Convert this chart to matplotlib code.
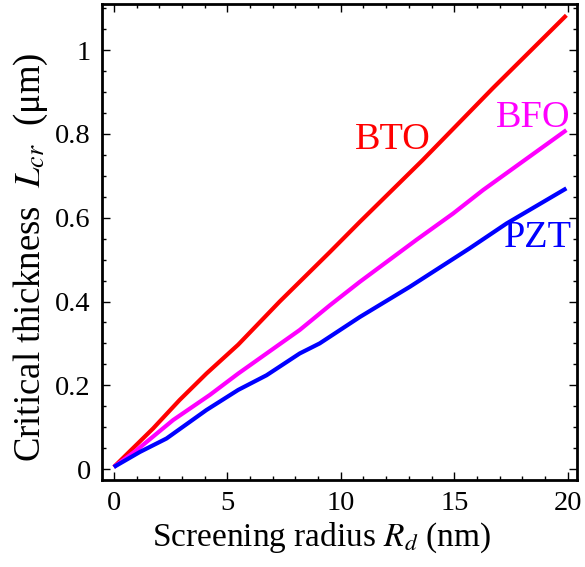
import numpy as np
import matplotlib
matplotlib.use("Agg")
import matplotlib.pyplot as plt
from matplotlib.ticker import MultipleLocator, FuncFormatter

plt.rcParams['font.family'] = ['Liberation Serif', 'DejaVu Serif']
plt.rcParams['mathtext.fontset'] = 'stix'

# данные
bto_x = [0, 1.73, 2.9, 4.08, 5.48, 7.31, 9.52, 10.84, 13.6, 16.7, 19.94]
bto_y = [0.005, 0.097, 0.165, 0.228, 0.297, 0.400, 0.518, 0.590, 0.737, 0.909, 1.083]

bfo_x = [0, 1.0, 2.61, 4.23, 5.48, 8.19, 9.52, 10.84, 13.33, 14.95, 16.27, 19.94]
bfo_y = [0.005, 0.045, 0.117, 0.177, 0.228, 0.332, 0.391, 0.447, 0.547, 0.610, 0.666, 0.809]

pzt_x = [0, 1.15, 2.32, 4.08, 5.48, 6.73, 8.19, 9.07, 10.84, 13.04, 15.68, 17.3, 19.94]
pzt_y = [0.005, 0.041, 0.073, 0.141, 0.189, 0.224, 0.276, 0.300, 0.363, 0.435, 0.527, 0.586, 0.670]

labels = ['BTO', 'BFO', 'PZT']
colors = ['#ff0000', '#ff00ff', '#0000ff']
label_pos = [(12.3, 0.785), (18.5, 0.838), (18.7, 0.551)]

fig = plt.figure(figsize=(5.85, 5.67), dpi=100)
ax = fig.add_axes([0.174, 0.1534, 0.812, 0.8396])

for xs, ys, c in zip([bto_x, bfo_x, pzt_x], [bto_y, bfo_y, pzt_y], colors):
    ax.plot(xs, ys, color=c, lw=3.0, solid_capstyle='butt')

for name, (lx, ly), c in zip(labels, label_pos, colors):
    ax.text(lx, ly, name, color=c, fontsize=27.5, ha='center', va='center')

ax.set_xlim(-0.53, 20.4)
ax.set_ylim(-0.026, 1.11)

ax.xaxis.set_major_locator(MultipleLocator(5))
ax.xaxis.set_minor_locator(MultipleLocator(1))
ax.yaxis.set_major_locator(MultipleLocator(0.2))
ax.yaxis.set_minor_locator(MultipleLocator(0.05))
ax.yaxis.set_major_formatter(FuncFormatter(lambda v, p: f'{v:g}'))

ax.tick_params(which='both', direction='in', top=True, right=True,
               labelsize=20.5, width=1.0, pad=8)
ax.tick_params(which='major', length=6)
ax.tick_params(which='minor', length=3)
for s in ax.spines.values():
    s.set_linewidth(2.0)

ax.set_xlabel(r'Screening radius $R_d$ (nm)', fontsize=24)
ax.set_ylabel(r'Critical thickness  $L_{cr}$  (μm)', fontsize=26.5)
ax.xaxis.set_label_coords(0.463, -0.085)
ax.yaxis.set_label_coords(-0.11, 0.468)

fig.savefig('out.png', dpi=100)
